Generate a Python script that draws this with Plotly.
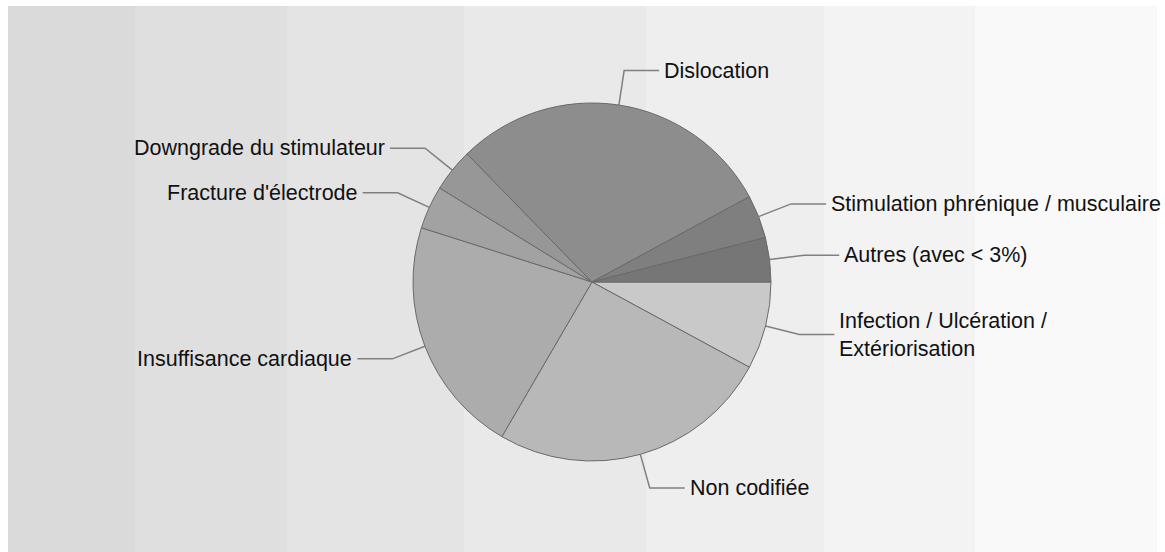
import math
import plotly.graph_objects as go

# Causes of re-intervention (share of cases, %), listed clockwise from 3 o'clock
labels = [
    "Infection / Ulcération /<br>Extériorisation",
    "Non codifiée",
    "Insuffisance cardiaque",
    "Fracture d'électrode",
    "Downgrade du stimulateur",
    "Dislocation",
    "Stimulation phrénique / musculaire",
    "Autres (avec < 3%)",
]
values = [7.9, 25.5, 21.5, 3.9, 3.9, 29.4, 3.9, 4.0]
colors = ["#c9c9c9", "#b8b8b8", "#acacac", "#a2a2a2",
          "#979797", "#8d8d8d", "#7f7f7f", "#767676"]

# background bands (left edge, right edge in px, colour)
band_edges = [8, 135, 287, 464, 646, 824, 975, 1157]
band_colors = ["#dadada", "#dfdfdf", "#e4e4e4", "#e9e9e9",
               "#eeeeee", "#f3f3f3", "#f9f9f9"]

W, H = 1165, 552
CX, CY, R = 592, 282, 179      # pie centre and radius in px
ELBOW = 1.195                 # leader elbow radius relative to R
ARM = 35                      # horizontal arm of the leader line
GAP = 3

fig = go.Figure()

fig.add_trace(go.Pie(
    labels=labels,
    values=values,
    sort=False,
    direction="clockwise",
    rotation=90,
    marker=dict(colors=colors, line=dict(color="#6a6a6a", width=1)),
    textinfo="none",
    hoverinfo="label+percent",
    showlegend=False,
    domain=dict(x=[(CX - R) / W, (CX + R) / W],
                y=[1 - (CY + R) / H, 1 - (CY - R) / H]),
))

# leader lines and labels computed from slice mid-angles
total = sum(values)
cum = 0.0
lx, ly = [], []
annotations = []
for lab, v in zip(labels, values):
    mid = -(cum + v / 2) / total * 2 * math.pi
    cum += v
    c, s = math.cos(mid), math.sin(mid)
    x0, y0 = CX + R * c, CY - R * s
    x1, y1 = CX + ELBOW * R * c, CY - ELBOW * R * s
    side = 1 if c >= 0 else -1
    x2 = x1 + side * ARM
    lx += [x0, x1, x2, None]
    ly += [y0, y1, y1, None]
    annotations.append(dict(
        x=x2 + side * GAP, y=y1, xref="x", yref="y",
        text=lab, showarrow=False,
        xanchor="left" if side > 0 else "right", yanchor="middle",
        align="left",
        font=dict(family="Liberation Sans, Arial, sans-serif",
                  size=21.5, color="#111111"),
    ))

fig.add_trace(go.Scatter(
    x=lx, y=ly, mode="lines",
    line=dict(color="#808080", width=1.5),
    hoverinfo="skip", showlegend=False,
))

shapes = []
for i, col in enumerate(band_colors):
    shapes.append(dict(
        type="rect", xref="x", yref="y", layer="below",
        x0=band_edges[i], x1=band_edges[i + 1], y0=6, y1=H,
        fillcolor=col, line=dict(width=0),
    ))

fig.update_layout(
    width=W, height=H,
    margin=dict(l=0, r=0, t=0, b=0),
    paper_bgcolor="white",
    plot_bgcolor="rgba(0,0,0,0)",
    xaxis=dict(range=[0, W], visible=False, fixedrange=True, domain=[0, 1]),
    yaxis=dict(range=[H, 0], visible=False, fixedrange=True, domain=[0, 1]),
    shapes=shapes,
    annotations=annotations,
)

fig.write_html("out.html")
